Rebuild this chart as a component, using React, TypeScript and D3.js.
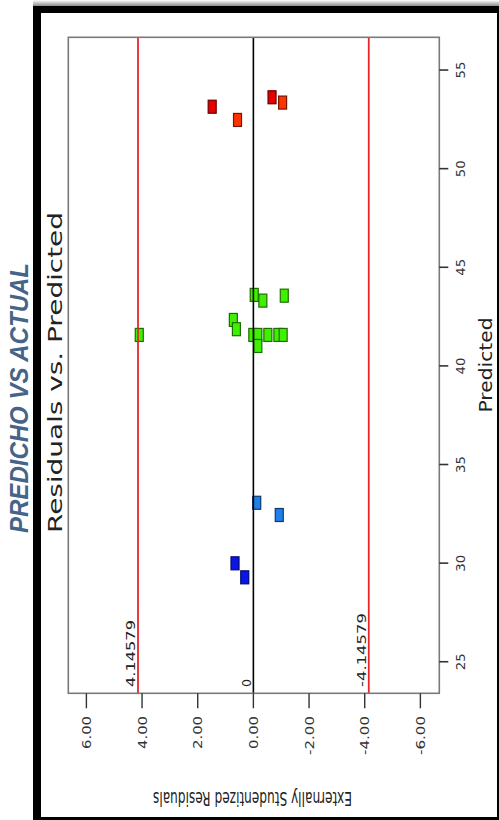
import React, { useEffect, useRef } from 'react';
import * as d3 from 'd3';

const W = 499;
const H = 820;

// Design points: predicted value and externally studentized residual per run
const predicted = [53.14, 52.47, 53.62, 53.35, 41.57, 43.6, 43.31, 43.56, 42.33, 41.86, 41.57, 41.57, 41.01, 41.57, 41.57, 41.57, 29.99, 29.28, 33.06, 32.44];
const residuals = [1.48, 0.57, -0.67, -1.05, 4.1, -0.03, -0.34, -1.11, 0.72, 0.61, 0.02, -0.16, -0.16, -0.52, -0.88, -1.07, 0.66, 0.31, -0.12, -0.93];
const colorGroup = ['red', 'orange', 'red', 'orange', 'green', 'green', 'green', 'green', 'green', 'green', 'green', 'green', 'green', 'green', 'green', 'green', 'blue', 'blue', 'sky', 'sky'];

const residualTicks = [6, 4, 2, 0, -2, -4, -6];
const predictedTicks = [25, 30, 35, 40, 45, 50, 55];
const limit = 4.14579;

const palette: Record<string, string> = {
  red: '#e60000',
  orange: '#ff3300',
  green: '#3ff000',
  blue: '#0a16e6',
  sky: '#1f80ea',
};

const App: React.FC = () => {
  const svgRef = useRef<SVGSVGElement>(null);

  useEffect(() => {
    document.body.style.margin = '0';
    if (!svgRef.current) return;
    const svg = d3.select(svgRef.current);
    svg.selectAll('*').remove();

    // plot box (chart is drawn rotated: residuals run right-to-left along the bottom)
    const box = { left: 68.3, right: 439.3, top: 37.3, bottom: 693.3 };

    const x = d3.scaleLinear().domain([6.65, -6.68]).range([box.left, box.right]);
    const y = d3.scaleLinear().domain([23.4, 56.66]).range([box.bottom, box.top]);

    // frame + shadow
    const defs = svg.append('defs');
    const grad = defs.append('linearGradient').attr('id', 'shade').attr('x1', 0).attr('y1', 0).attr('x2', 0).attr('y2', 1);
    grad.append('stop').attr('offset', '0%').attr('stop-color', '#ffffff');
    grad.append('stop').attr('offset', '100%').attr('stop-color', '#8a8a8a');
    svg.append('rect').attr('x', 33).attr('y', 0).attr('width', W - 33).attr('height', 6).attr('fill', 'url(#shade)');
    svg.append('rect').attr('x', 33).attr('y', 6).attr('width', W - 33).attr('height', H - 6).attr('fill', '#000');
    svg.append('rect').attr('x', 41).attr('y', 13).attr('width', 456).attr('height', 804).attr('fill', '#fff');

    const font = '"DejaVu Sans", Verdana, sans-serif';

    // blue slide title
    svg.append('text')
      .attr('transform', `translate(28,398) rotate(-90)`)
      .attr('text-anchor', 'middle')
      .attr('font-family', '"Liberation Sans", Arial, sans-serif')
      .attr('font-weight', 'bold')
      .attr('font-style', 'italic')
      .attr('font-size', 25)
      .attr('fill', '#44648a')
      .attr('textLength', 270)
      .attr('lengthAdjust', 'spacingAndGlyphs')
      .text('PREDICHO VS ACTUAL');

    // chart title
    svg.append('text')
      .attr('transform', `translate(62,372.5) rotate(-90)`)
      .attr('text-anchor', 'middle')
      .attr('font-family', font)
      .attr('font-size', 19)
      .attr('fill', '#222')
      .attr('textLength', 321)
      .attr('lengthAdjust', 'spacingAndGlyphs')
      .text('Residuals vs. Predicted');

    const g = svg.append('g');

    // points
    g.selectAll('rect.pt')
      .data(predicted.map((p, i) => ({ p, r: residuals[i], c: palette[colorGroup[i]] })))
      .enter().append('rect')
      .attr('class', 'pt')
      .attr('x', d => x(d.r) - 4)
      .attr('y', d => y(d.p) - 6.5)
      .attr('width', 8)
      .attr('height', 13)
      .attr('fill', d => d.c)
      .attr('stroke', d => d3.color(d.c)!.darker(2.2).toString())
      .attr('stroke-width', 1.2);

    // zero line + limit lines
    g.append('line')
      .attr('x1', x(0)).attr('x2', x(0))
      .attr('y1', box.top).attr('y2', box.bottom)
      .attr('stroke', '#000').attr('stroke-width', 1.6);

    [limit, -limit].forEach(v => {
      g.append('line')
        .attr('x1', x(v)).attr('x2', x(v))
        .attr('y1', box.top).attr('y2', box.bottom)
        .attr('stroke', '#e8262a').attr('stroke-width', 1.8);
    });

    const lineLabels = [
      { v: limit, s: '4.14579', len: 67 },
      { v: -limit, s: '-4.14579', len: 74 },
      { v: 0, s: '0', len: 8 },
    ];
    lineLabels.forEach(l => {
      g.append('text')
        .attr('transform', `translate(${x(l.v) - 2.5},687) rotate(-90)`)
        .attr('text-anchor', 'start')
        .attr('font-family', font)
        .attr('font-size', 12.5)
        .attr('fill', '#222')
        .attr('textLength', l.len)
        .attr('lengthAdjust', 'spacingAndGlyphs')
        .text(l.s);
    });

    // plot border
    g.append('rect')
      .attr('x', box.left).attr('y', box.top)
      .attr('width', box.right - box.left).attr('height', box.bottom - box.top)
      .attr('fill', 'none').attr('stroke', '#7a7a7a').attr('stroke-width', 1.6);

    // residual axis (bottom)
    residualTicks.forEach(t => {
      g.append('line')
        .attr('x1', x(t)).attr('x2', x(t))
        .attr('y1', box.bottom).attr('y2', box.bottom + 15)
        .attr('stroke', '#333').attr('stroke-width', 1.4);
      const s = t.toFixed(2);
      g.append('text')
        .attr('transform', `translate(${x(t) + 4.7},716) rotate(-90)`)
        .attr('text-anchor', 'end')
        .attr('font-family', font)
        .attr('font-size', 13)
        .attr('fill', '#333')
        .attr('textLength', s.length === 4 ? 33 : 39)
        .attr('lengthAdjust', 'spacingAndGlyphs')
        .text(s);
    });

    g.append('text')
      .attr('transform', `translate(252.5,792) rotate(180)`)
      .attr('text-anchor', 'middle')
      .attr('font-family', font)
      .attr('font-size', 20)
      .attr('fill', '#222')
      .attr('textLength', 199)
      .attr('lengthAdjust', 'spacingAndGlyphs')
      .text('Externally Studentized Residuals');

    // predicted axis (right)
    predictedTicks.forEach(t => {
      g.append('line')
        .attr('x1', box.right).attr('x2', box.right + 9)
        .attr('y1', y(t)).attr('y2', y(t))
        .attr('stroke', '#333').attr('stroke-width', 1.6);
      g.append('text')
        .attr('transform', `translate(465,${y(t)}) rotate(-90)`)
        .attr('text-anchor', 'middle')
        .attr('font-family', font)
        .attr('font-size', 13)
        .attr('fill', '#333')
        .attr('textLength', 17)
        .attr('lengthAdjust', 'spacingAndGlyphs')
        .text(String(t));
    });

    g.append('text')
      .attr('transform', `translate(492,365) rotate(-90)`)
      .attr('text-anchor', 'middle')
      .attr('font-family', font)
      .attr('font-size', 18)
      .attr('fill', '#222')
      .attr('textLength', 95)
      .attr('lengthAdjust', 'spacingAndGlyphs')
      .text('Predicted');
  }, []);

  return (
    <svg
      ref={svgRef}
      width={W}
      height={H}
      style={{ position: 'absolute', left: 0, top: 0, display: 'block', background: '#fff' }}
    />
  );
};

export default App;
